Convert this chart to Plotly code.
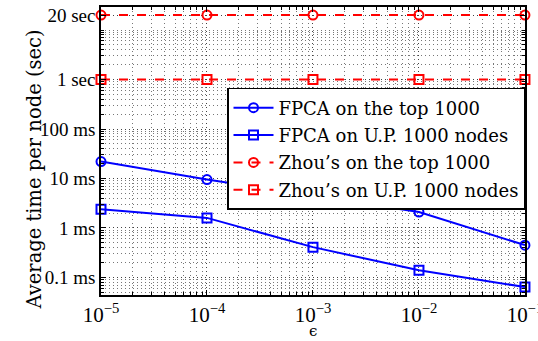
import plotly.graph_objects as go

# ---- data (time in seconds) ----
eps = [1e-5, 1e-4, 1e-3, 1e-2, 1e-1]
fpca_top = [22e-3, 9.5e-3, 4.5e-3, 2.1e-3, 0.45e-3]
fpca_up = [2.4e-3, 1.6e-3, 0.41e-3, 0.14e-3, 0.064e-3]
zhou_top = [20, 20, 20, 20, 20]
zhou_up = [1, 1, 1, 1, 1]

names = ["FPCA on the top 1000", "FPCA on U.P. 1000 nodes",
         "Zhou’s on the top 1000", "Zhou’s on U.P. 1000 nodes"]

y_tickvals = [1e-4, 1e-3, 1e-2, 1e-1, 1, 20]
y_ticktext = ["0.1 ms", "1 ms", "10 ms", "100 ms", "1 sec", "20 sec"]
x_tickvals = [1e-5, 1e-4, 1e-3, 1e-2, 1e-1]
x_ticktext = ["10<sup>−5</sup>", "10<sup>−4</sup>", "10<sup>−3</sup>", "10<sup>−2</sup>", "10<sup>−1</sup>"]

x_minor = [m * 10.0 ** k for k in range(-5, -1) for m in range(1, 10)] + [1e-1]
y_minor = [m * 10.0 ** k for k in range(-5, 2) for m in range(1, 10)]

BLUE = "#0000ff"
RED = "#ff0000"
FONT = "Liberation Serif"
FONT2 = "DejaVu Serif"

fig = go.Figure()
series = [
    (fpca_top, BLUE, "solid", "circle-open"),
    (fpca_up, BLUE, "solid", "square-open"),
    (zhou_top, RED, "dash", "circle-open"),
    (zhou_up, RED, "dash", "square-open"),
]
for i, (ys, col, dash, sym) in enumerate(series):
    fig.add_trace(go.Scatter(
        x=eps, y=ys, name=names[i], mode="lines+markers",
        legendgroup=str(i),
        line=dict(color=col, width=2, dash=dash),
        marker=dict(symbol=sym, size=9, color=col, line=dict(width=2, color=col)),
        cliponaxis=False,
    ))

grid_common = dict(
    showline=True, linecolor="black", linewidth=1.5, mirror="ticks",
    ticks="inside", ticklen=5, tickcolor="black",
    showgrid=True, gridcolor="#444", gridwidth=1, griddash="1px,3px",
    zeroline=False, ticklabeloverflow="allow", automargin=False,
)

fig.update_xaxes(
    type="log", range=[-5, -0.9995], tickmode="array",
    tickvals=x_tickvals, ticktext=x_ticktext,
    tickfont=dict(family=FONT, size=21, color="black"),
    minor=dict(tickmode="array", tickvals=x_minor, ticks="inside", ticklen=3,
               tickcolor="black", showgrid=True, gridcolor="#777",
               griddash="1px,3px", gridwidth=1),
    **grid_common,
)
fig.update_yaxes(
    type="log", range=[-4.354, 1.465], tickmode="array",
    tickvals=y_tickvals, ticktext=y_ticktext,
    tickfont=dict(family=FONT, size=19, color="black"),
    minor=dict(tickmode="array", tickvals=y_minor, ticks="inside", ticklen=3,
               tickcolor="black", showgrid=True, gridcolor="#777",
               griddash="1px,3px", gridwidth=1),
    **grid_common,
)

W, H = 538, 341
L, R, T, B = 101, 13, 7, 46
pw, ph = W - L - R, H - T - B

fig.add_annotation(
    text="Average time per node (sec)", textangle=-90,
    x=(20 - L) / pw, xref="paper", y=(H - B - 170) / ph, yref="paper",
    showarrow=False, font=dict(family=FONT2, size=19.5, color="black"),
)
fig.add_annotation(
    text="ϵ", x=0.5, xref="paper", y=(H - B - 331) / ph, yref="paper",
    yanchor="middle", showarrow=False,
    font=dict(family=FONT2, size=15, color="black"),
)

fig.update_layout(
    template="none",
    width=W, height=H,
    margin=dict(l=L, r=R, t=T, b=B),
    paper_bgcolor="white", plot_bgcolor="white",
    font=dict(family=FONT),
    showlegend=True,
    legend=dict(
        x=1.0, xanchor="right", y=0.719, yanchor="top",
        bgcolor="white", bordercolor="black", borderwidth=1.5,
        font=dict(family=FONT2, size=18, color="black"),
        tracegroupgap=1, itemwidth=40,
    ),
)

fig.write_html("out.html")
